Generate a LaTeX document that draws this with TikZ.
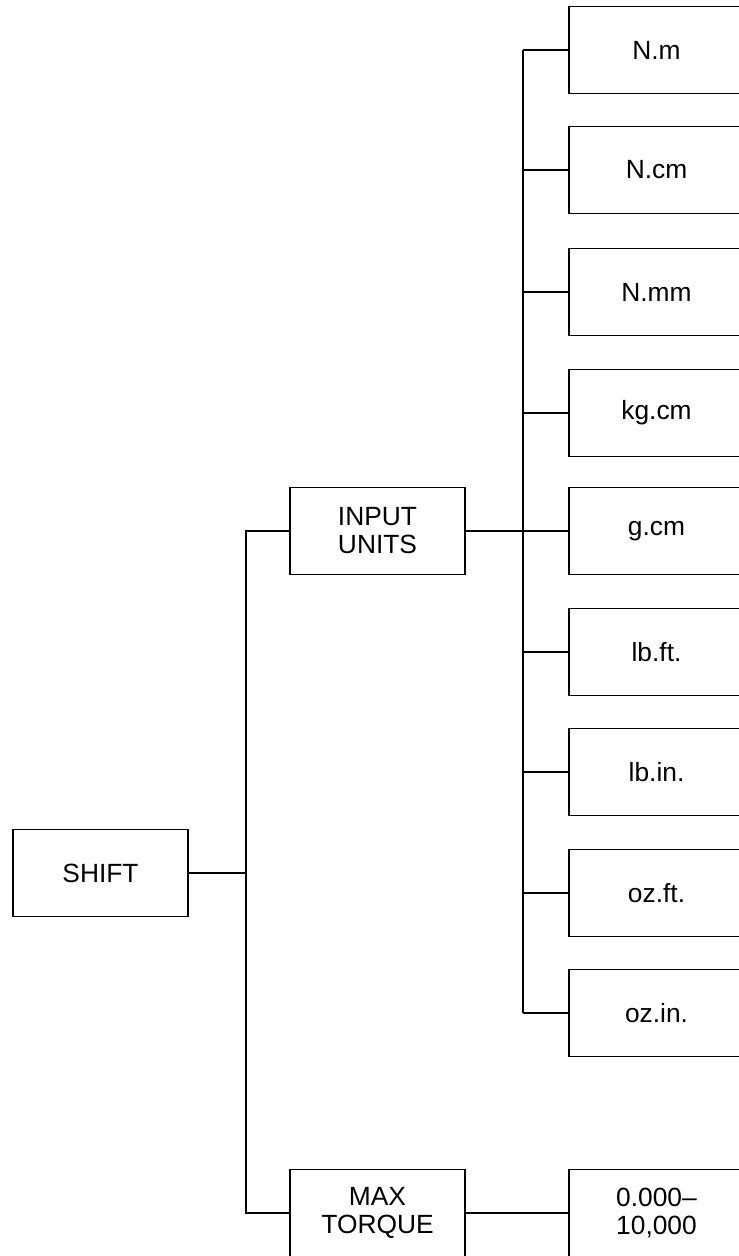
\documentclass[tikz,border=0pt]{standalone}
\usepackage{fontspec}
\setmainfont{Liberation Sans}
\usetikzlibrary{calc}

\tikzset{
  menubox/.style={draw, minimum width=3.5cm, minimum height=1.74cm,
    align=center, inner sep=0pt, font=\fontsize{15}{16}\selectfont}
}

\begin{document}
\begin{tikzpicture}[x=0.02cm, y=-0.02cm, line width=1.1pt]
  \useasboundingbox (0,0) rectangle (739,1256);
  \clip (0,0) rectangle (739,1256);

  % left column
  \node[menubox] (shift) at (100.5,873) {SHIFT};

  % middle column
  \node[menubox] (input) at (377.5,531) {INPUT\\UNITS};
  \node[menubox] (maxtq) at (377.5,1213) {MAX\\TORQUE};

  % right column: units
  \node[menubox] (nm)   at (656.5,50)   {N.m};
  \node[menubox] (ncm)  at (656.5,170)  {N.cm};
  \node[menubox] (nmm)  at (656.5,292)  {N.mm};
  \node[menubox] (kgcm) at (656.5,413)  {kg.cm};
  \node[menubox] (gcm)  at (656.5,531)  {g.cm};
  \node[menubox] (lbft) at (656.5,652)  {lb.ft.};
  \node[menubox] (lbin) at (656.5,772)  {lb.in.};
  \node[menubox] (ozft) at (656.5,893)  {oz.ft.};
  \node[menubox] (ozin) at (656.5,1013) {oz.in.};

  % right column: range
  \node[menubox] (range) at (656.5,1213) {0.000--\\10,000};

  % trunk lines
  \coordinate (trunkL) at (246,873);
  \coordinate (trunkR) at (523,531);

  % shift -> branches
  \draw (shift.east) -- (trunkL);
  \draw (input.west) -| (trunkL) |- (maxtq.west);

  % input units -> units
  \draw (input.east) -- (gcm.west);
  \draw (nm.west -| trunkR) -- (ozin.west -| trunkR);
  \draw (nm.west)   -- (nm.west -| trunkR);
  \draw (ncm.west)  -- (ncm.west -| trunkR);
  \draw (nmm.west)  -- (nmm.west -| trunkR);
  \draw (kgcm.west) -- (kgcm.west -| trunkR);
  \draw (lbft.west) -- (lbft.west -| trunkR);
  \draw (lbin.west) -- (lbin.west -| trunkR);
  \draw (ozft.west) -- (ozft.west -| trunkR);
  \draw (ozin.west) -- (ozin.west -| trunkR);

  % max torque -> range
  \draw (maxtq.east) -- (range.west);
\end{tikzpicture}
\end{document}
